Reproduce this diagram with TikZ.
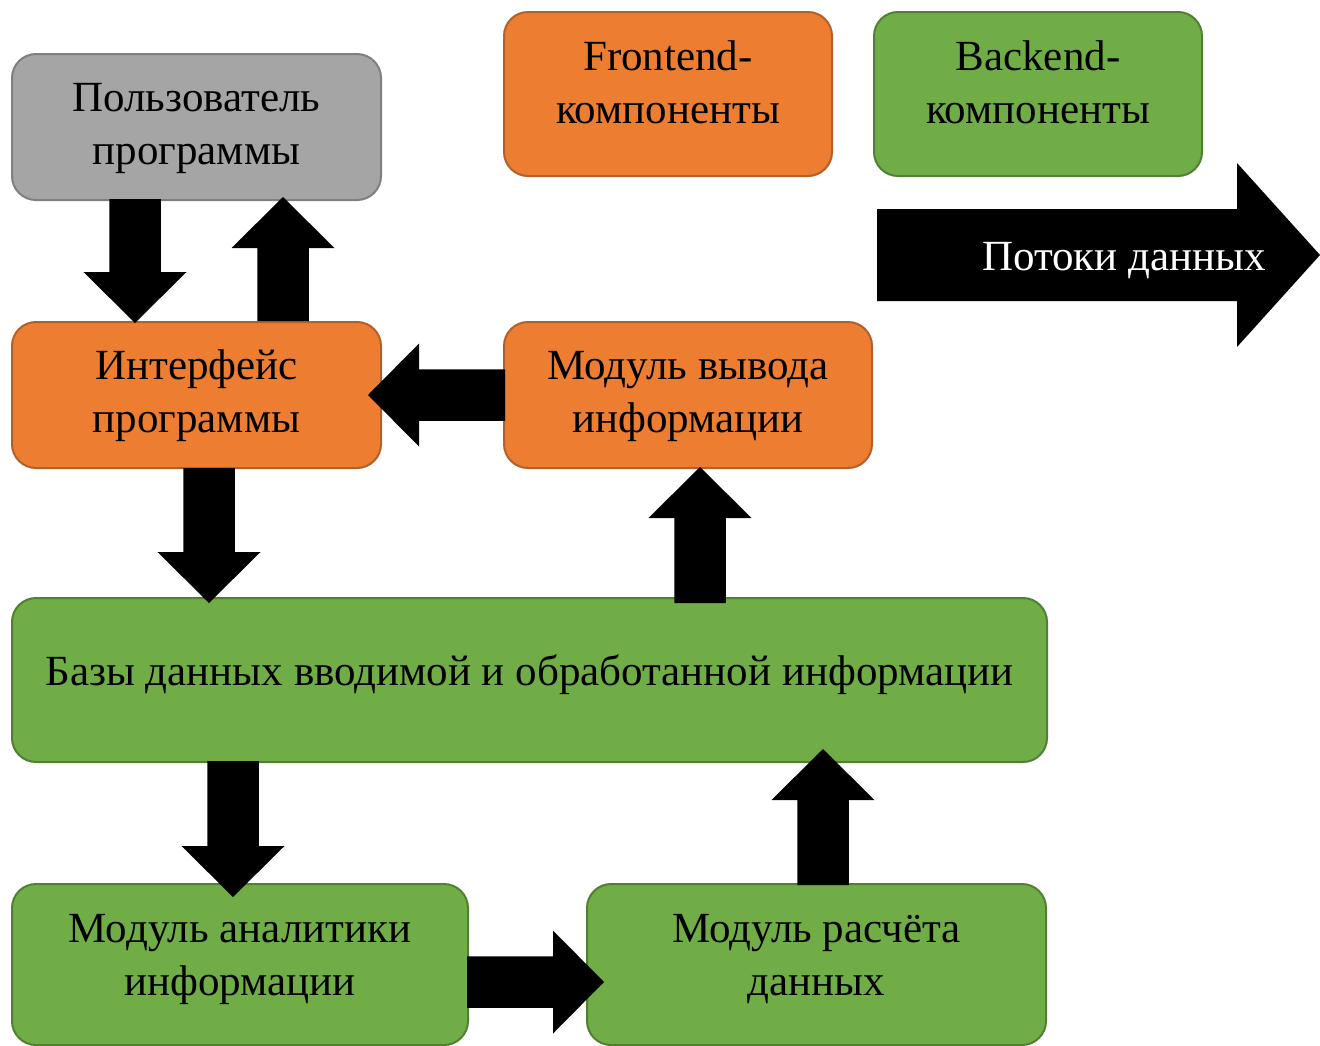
\documentclass[tikz,border=0pt]{standalone}
\usepackage{fontspec}
\setmainfont{Liberation Serif}
\usetikzlibrary{calc}
\definecolor{orfill}{HTML}{ED7D31}
\definecolor{ordraw}{HTML}{B0602A}
\definecolor{grfill}{HTML}{70AD47}
\definecolor{grdraw}{HTML}{527F33}
\definecolor{gyfill}{HTML}{A5A5A5}
\definecolor{gydraw}{HTML}{7F7F7F}
\tikzset{
  box/.style={rounded corners=24pt, line width=2pt, inner sep=0pt, outer sep=0pt,
    align=center, text depth=10pt, font=\fontsize{43pt}{53pt}\selectfont},
  orbox/.style={box, fill=orfill, draw=ordraw},
  grbox/.style={box, fill=grfill, draw=grdraw},
  gybox/.style={box, fill=gyfill, draw=gydraw},
  arrowfill/.style={fill=black},
}
\newcommand\blockarrow[2]{%
  \coordinate (ba-c) at ($(#2)!51pt!(#1)$);
  \fill[arrowfill] ($(#1)!25.75pt!90:(#2)$) -- ($(ba-c)!25.75pt!-90:(#1)$)
    -- ($(ba-c)!51.5pt!-90:(#1)$) -- (#2) -- ($(ba-c)!51.5pt!90:(#1)$)
    -- ($(ba-c)!25.75pt!90:(#1)$) -- ($(#1)!25.75pt!-90:(#2)$) -- cycle;
}
\begin{document}
\begin{tikzpicture}[x=1pt,y=-1pt]
\useasboundingbox (0,0) rectangle (1320,1045);
% boxes
\node[gybox, minimum width=369pt, minimum height=146pt, text height=84pt] (user) at (196.5,127) {Пользователь\\программы};
\node[orbox, minimum width=328pt, minimum height=164pt, text height=68pt] (front) at (668,94) {Frontend-\\компоненты};
\node[grbox, minimum width=328pt, minimum height=164pt, text height=68pt] (back) at (1038,94) {Backend-\\компоненты};
\node[orbox, minimum width=369pt, minimum height=146pt, text height=84pt] (iface) at (196.5,395) {Интерфейс\\программы};
\node[orbox, minimum width=368pt, minimum height=146pt, text height=84pt] (out) at (688,395) {Модуль вывода\\информации};
\node[grbox, minimum width=1035pt, minimum height=164pt, text height=20pt] (base) at (529.5,680) {Базы данных вводимой и обработанной информации};
\node[grbox, minimum width=456pt, minimum height=161pt, text height=71pt] (anal) at (240,964.5) {Модуль аналитики\\информации};
\node[grbox, minimum width=459pt, minimum height=161pt, text height=71pt] (calc) at (816.5,964.5) {Модуль расчёта\\данных};
% legend arrow
\fill[arrowfill] (877,209) coordinate (la1) -- (1237,209) -- (1237,163) -- (1320,255) coordinate (la2)
  -- (1237,347) -- (1237,301) -- (877,301) -- cycle;
\node[font=\fontsize{43pt}{53pt}\selectfont, text=white, anchor=base, inner sep=0pt] (flow) at (1124,270) {Потоки данных};
% connectors
\blockarrow{$(user.south west)+(123,-1)$}{$(iface.north west)+(123,1)$}
\blockarrow{$(iface.north west)+(271,-1)$}{$(user.south west)+(271,-3)$}
\blockarrow{$(out.west)+(1,0)$}{$(iface.east)+(-13,0)$}
\blockarrow{$(iface.south west)+(197,0)$}{$(base.north west)+(197,5)$}
\blockarrow{$(base.north west)+(688,5)$}{$(out.south west)+(196,-1)$}
\blockarrow{$(base.south west)+(221,-1)$}{$(anal.north west)+(221,13)$}
\blockarrow{$(anal.north east)+(-1,98)$}{$(calc.north west)+(17,98)$}
\blockarrow{$(calc.north west)+(236,1)$}{$(base.south west)+(811,-13)$}
\end{tikzpicture}
\end{document}
